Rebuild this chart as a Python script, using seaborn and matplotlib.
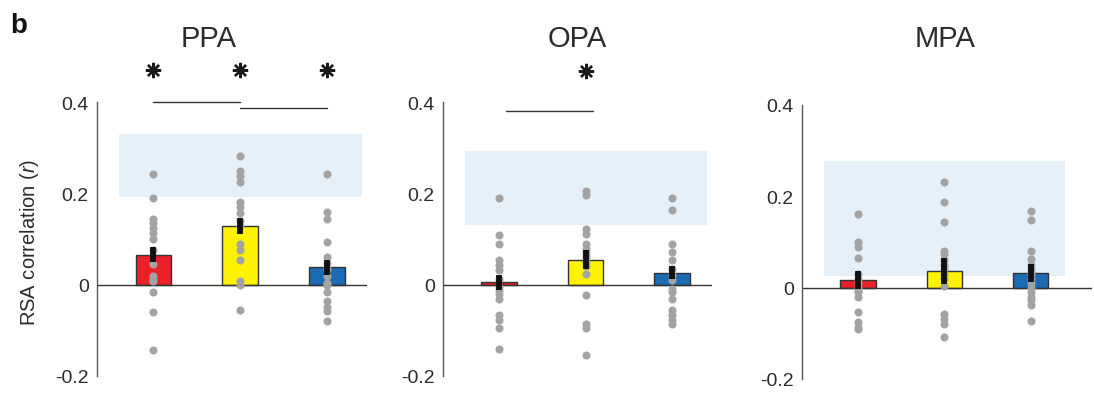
import matplotlib
matplotlib.use("Agg")
import matplotlib.pyplot as plt
import numpy as np
import pandas as pd
import seaborn as sns

# ---- data -------------------------------------------------------------
regions = ["PPA", "OPA", "MPA"]
conditions = ["A", "B", "C"]
bar_colors = ["#e8212b", "#fff200", "#1c6cb4"]

# group means and standard errors per region (condition order A, B, C)
ppa_mean = [0.066, 0.128, 0.038]
opa_mean = [0.005, 0.055, 0.026]
mpa_mean = [0.017, 0.036, 0.032]
ppa_sem = [0.017, 0.018, 0.016]
opa_sem = [0.017, 0.020, 0.014]
mpa_sem = [0.019, 0.028, 0.020]

# individual subject correlations
ppa_a = [0.242, 0.190, 0.143, 0.136, 0.125, 0.114, 0.100, 0.075, 0.045, 0.020,
         0.012, 0.007, -0.017, -0.059, -0.143]
ppa_b = [0.282, 0.249, 0.238, 0.225, 0.180, 0.169, 0.158, 0.139, 0.128, 0.088,
         0.077, 0.055, 0.007, 0.000, -0.055]
ppa_c = [0.242, 0.159, 0.143, 0.093, 0.061, 0.048, 0.035, 0.020, 0.004, 0.000,
         -0.015, -0.035, -0.049, -0.057, -0.079]
opa_a = [0.190, 0.108, 0.090, 0.053, 0.042, 0.031, 0.012, -0.005, -0.012, -0.020,
         -0.031, -0.067, -0.078, -0.096, -0.142]
opa_b = [0.205, 0.196, 0.123, 0.112, 0.090, 0.079, 0.070, 0.060, 0.050, 0.040,
         0.024, -0.023, -0.086, -0.096, -0.154]
opa_c = [0.190, 0.164, 0.090, 0.072, 0.053, 0.035, 0.020, 0.010, -0.009, -0.016,
         -0.031, -0.056, -0.067, -0.078, -0.086]
mpa_a = [0.161, 0.099, 0.088, 0.066, 0.030, 0.020, 0.010, 0.000, -0.005, -0.010,
         -0.020, -0.054, -0.076, -0.087, -0.090]
mpa_b = [0.232, 0.188, 0.144, 0.081, 0.074, 0.060, 0.050, 0.040, 0.030, 0.020,
         0.004, -0.058, -0.068, -0.079, -0.109]
mpa_c = [0.168, 0.149, 0.081, 0.063, 0.050, 0.040, 0.030, 0.020, 0.010, 0.000,
         -0.010, -0.021, -0.028, -0.039, -0.072]

# noise ceiling (lower, upper) per region
ppa_ceiling = [0.193, 0.330]
opa_ceiling = [0.130, 0.294]
mpa_ceiling = [0.026, 0.278]

# pairwise significance bars: (from, to, height) and single-condition stars
ppa_pairs = [(0.0, 1.0, 0.399), (1.0, 2.0, 0.386)]
opa_pairs = [(0.08, 1.08, 0.381)]
mpa_pairs = []
ppa_stars = [0, 1, 2]
opa_stars = [1]
mpa_stars = []
star_height = 0.469

yticks = [-0.2, 0.0, 0.2, 0.4]
ytick_labels = ["-0.2", "0", "0.2", "0.4"]

# ---- style ------------------------------------------------------------
sns.set_theme(style="white")
plt.rcParams["font.family"] = ["Liberation Sans", "DejaVu Sans"]
plt.rcParams["mathtext.fontset"] = "custom"
plt.rcParams["mathtext.rm"] = "Liberation Sans"
plt.rcParams["mathtext.it"] = "Liberation Sans:italic"

W, H = 1094, 402
fig = plt.figure(figsize=(W / 100, H / 100), dpi=100)
fig.patch.set_facecolor("white")

# axes boxes in pixels: left, top, right, bottom, right-hand x limit
boxes = [(97, 103, 367, 377, 2.46),
         (443, 103.3, 712, 376.7, 2.46),
         (802, 106, 1092, 380, 2.71)]
title_x = [209, 577, 945]

panel_means = [ppa_mean, opa_mean, mpa_mean]
panel_sems = [ppa_sem, opa_sem, mpa_sem]
panel_dots = [[ppa_a, ppa_b, ppa_c], [opa_a, opa_b, opa_c], [mpa_a, mpa_b, mpa_c]]
panel_ceiling = [ppa_ceiling, opa_ceiling, mpa_ceiling]
panel_pairs = [ppa_pairs, opa_pairs, mpa_pairs]
panel_stars = [ppa_stars, opa_stars, mpa_stars]

text_col = "#2b2b2b"
axis_col = "#555555"

for i, region in enumerate(regions):
    l, t, r, b, xr = boxes[i]
    ax = fig.add_axes([l / W, 1 - b / H, (r - l) / W, (b - t) / H])
    ax.set_facecolor("none")

    summary = pd.DataFrame({"cond": conditions, "r": panel_means[i]})
    dots = pd.DataFrame({
        "cond": np.repeat(conditions, [len(v) for v in panel_dots[i]]),
        "r": np.concatenate(panel_dots[i]),
    })

    # noise ceiling band
    lo, hi = panel_ceiling[i]
    ax.fill_between([-0.4, 2.4], lo, hi, color="#e6f0f9", lw=0, zorder=0)

    sns.barplot(data=summary, x="cond", y="r", hue="cond", palette=bar_colors,
                order=conditions, hue_order=conditions, width=0.41,
                saturation=1, edgecolor="#333333", linewidth=1.0,
                errorbar=None, legend=False, ax=ax, zorder=1)
    sns.stripplot(data=dots, x="cond", y="r", order=conditions, jitter=False,
                  color="#a3a3a3", size=5.8, linewidth=0, ax=ax, zorder=3)

    xs = np.arange(len(conditions))
    m = np.array(panel_means[i])
    s = np.array(panel_sems[i])
    ax.vlines(xs, m - s, m + s, color="#111111", lw=4.2, zorder=4)

    ax.axhline(0, color="#333333", lw=1.0, zorder=2)

    for x0, x1, y in panel_pairs[i]:
        ax.plot([x0, x1], [y, y], color="#333333", lw=1.0, clip_on=False)
    if panel_stars[i]:
        ax.plot(panel_stars[i], [star_height] * len(panel_stars[i]),
                ls="none", marker=(8, 2, 0), ms=11, mew=1.7,
                color="#1a1a1a", clip_on=False)

    ax.set_xlim(-0.65, xr)
    ax.set_ylim(-0.2, 0.4)
    ax.set_yticks(yticks)
    ax.set_yticklabels(ytick_labels)
    ax.set_xticks([])
    ax.set_xlabel("")
    ax.set_ylabel("")
    for side in ["top", "right", "bottom"]:
        ax.spines[side].set_visible(False)
    ax.spines["left"].set_color(axis_col)
    ax.spines["left"].set_linewidth(1.0)
    ax.tick_params(axis="y", direction="out", length=4, width=1.0,
                   color=axis_col, labelsize=14, labelcolor=text_col, pad=2)
    ax.tick_params(axis="x", length=0)

    fig.text(title_x[i] / W, 1 - 47 / H, region, ha="center", va="baseline",
             fontsize=21, color=text_col)

fig.text(30 / W, 1 - 242 / H, "RSA correlation ($r$)", rotation=90,
         ha="center", va="center", fontsize=14.5, color=text_col)
fig.text(10 / W, 1 - 33 / H, "b", ha="left", va="baseline",
         fontsize=20, fontweight="bold", color="#111111")

fig.savefig("out.png", dpi=100, facecolor="white")
